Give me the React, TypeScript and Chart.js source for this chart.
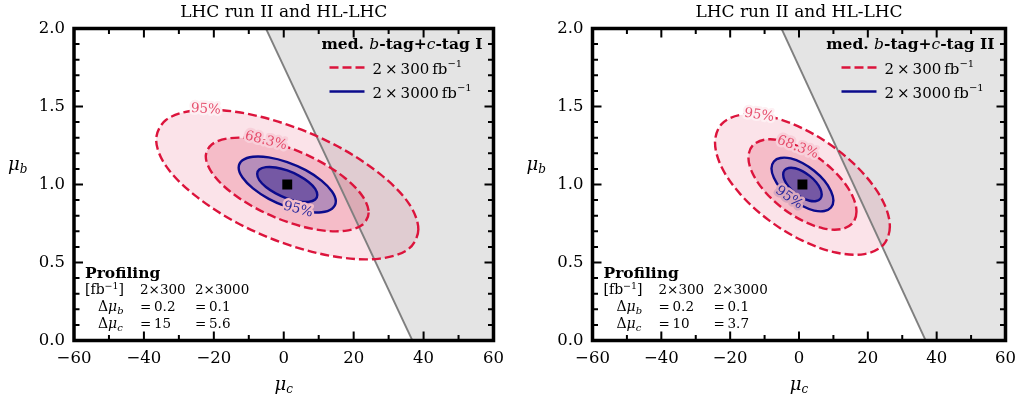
import React, { useEffect, useRef } from "react";
import { Chart, registerables } from "chart.js";

Chart.register(...registerables);

type Pt = [number, number];

// ---- Contour points (mu_c, mu_b) ----
// Panel I : med. b-tag + c-tag I
const I_300_95: Pt[] = [
  [38.5, 0.712], [35.7, 0.587], [27.5, 0.525], [15.4, 0.535], [1, 0.616], [-13.4, 0.755], [-25.5, 0.932], [-33.7, 1.119],
  [-36.5, 1.288], [-33.7, 1.413], [-25.5, 1.475], [-13.4, 1.465], [1, 1.384], [15.4, 1.245], [27.5, 1.068], [35.7, 0.881],
];
const I_300_68: Pt[] = [
  [24.3, 0.82], [22.5, 0.742], [17.5, 0.703], [9.9, 0.709], [1, 0.76], [-7.9, 0.847], [-15.5, 0.958], [-20.5, 1.074],
  [-22.3, 1.18], [-20.5, 1.258], [-15.5, 1.297], [-7.9, 1.291], [1, 1.24], [9.9, 1.153], [17.5, 1.042], [22.5, 0.926],
];
const I_3000_95: Pt[] = [
  [14.9, 0.892], [13.8, 0.845], [10.8, 0.822], [6.3, 0.826], [1, 0.856], [-4.3, 0.908], [-8.8, 0.975], [-11.8, 1.045],
  [-12.9, 1.108], [-11.8, 1.155], [-8.8, 1.178], [-4.3, 1.174], [1, 1.144], [6.3, 1.092], [10.8, 1.025], [13.8, 0.955],
];
const I_3000_68: Pt[] = [
  [9.6, 0.933], [9.0, 0.904], [7.1, 0.889], [4.3, 0.891], [1, 0.91], [-2.3, 0.943], [-5.1, 0.984], [-7.0, 1.028],
  [-7.6, 1.067], [-7.0, 1.096], [-5.1, 1.111], [-2.3, 1.109], [1, 1.09], [4.3, 1.057], [7.1, 1.016], [9.0, 0.972],
];
// Panel II : med. b-tag + c-tag II
const II_300_95: Pt[] = [
  [26.4, 0.73], [24.5, 0.613], [19.0, 0.554], [10.7, 0.564], [1, 0.64], [-8.7, 0.77], [-17.0, 0.937], [-22.5, 1.112],
  [-24.4, 1.27], [-22.5, 1.387], [-17.0, 1.446], [-8.7, 1.436], [1, 1.36], [10.7, 1.23], [19.0, 1.063], [24.5, 0.888],
];
const II_300_68: Pt[] = [
  [16.7, 0.826], [15.5, 0.751], [12.1, 0.713], [7.0, 0.719], [1, 0.768], [-5.0, 0.852], [-10.1, 0.959], [-13.5, 1.072],
  [-14.7, 1.174], [-13.5, 1.249], [-10.1, 1.287], [-5.0, 1.281], [1, 1.232], [7.0, 1.148], [12.1, 1.041], [15.5, 0.928],
];
const II_3000_95: Pt[] = [
  [10, 0.897], [9.3, 0.852], [7.4, 0.83], [4.4, 0.833], [1, 0.862], [-2.4, 0.912], [-5.4, 0.976], [-7.3, 1.043],
  [-8, 1.103], [-7.3, 1.148], [-5.4, 1.17], [-2.4, 1.167], [1, 1.138], [4.4, 1.088], [7.4, 1.024], [9.3, 0.957],
];
const II_3000_68: Pt[] = [
  [6.6, 0.936], [6.2, 0.908], [5.0, 0.894], [3.1, 0.896], [1, 0.914], [-1.1, 0.945], [-3.0, 0.985], [-4.2, 1.027],
  [-4.6, 1.064], [-4.2, 1.092], [-3.0, 1.106], [-1.1, 1.104], [1, 1.086], [3.1, 1.055], [5.0, 1.015], [6.2, 0.973],
];

const bestFit: Pt[] = [[1, 1]];
const boundaryLine: Pt[] = [[-5.1, 2], [36.8, 0]];
const excludedRegion: Pt[] = [[-5.1, 2], [36.8, 0], [60, 0], [60, 2]];

// ---- Axes ----
const xRange = [-60, 60];
const yRange = [0, 2];
const xMajorStep = 20;
const yMajorStep = 0.5;
const xMinorTicks = [-50, -30, -10, 10, 30, 50];
const yMinorTicks = [0.1, 0.2, 0.3, 0.4, 0.6, 0.7, 0.8, 0.9, 1.1, 1.2, 1.3, 1.4, 1.6, 1.7, 1.8, 1.9];

// ---- Texts ----
const panelTitles = ["LHC run II and HL-LHC", "LHC run II and HL-LHC"];
const taggerNames = ["I", "II"];
const lumiLabels = ["2\u2009×\u2009300\u2009fb", "2\u2009×\u20093000\u2009fb"];
const tableLumis = ["2×300", "2×3000"];
const deltaMuB = [["0.2", "0.1"], ["0.2", "0.1"]];
const deltaMuC = [["15", "5.6"], ["10", "3.7"]];

// contour level labels placed on the curves
const contourLabels = [
  [
    { text: "95%", x: -22.3, y: 1.482, rot: 0.05, kind: "red", halo: "#fdf0f3" },
    { text: "68.3%", x: -5.1, y: 1.28, rot: 0.25, kind: "red", halo: "#f8d0da" },
    { text: "95%", x: 4.1, y: 0.839, rot: 0.26, kind: "blue", halo: "#f3bcc8" },
  ],
  [
    { text: "95%", x: -11.6, y: 1.444, rot: 0.15, kind: "red", halo: "#fdf0f3" },
    { text: "68.3%", x: -0.4, y: 1.238, rot: 0.36, kind: "red", halo: "#f8d0da" },
    { text: "95%", x: -2.9, y: 0.915, rot: 0.62, kind: "blue", halo: "#d9a8bd" },
  ],
];

const panelCurves = [
  { r95: I_300_95, r68: I_300_68, b95: I_3000_95, b68: I_3000_68 },
  { r95: II_300_95, r68: II_300_68, b95: II_3000_95, b68: II_3000_68 },
];

// ---- Layout / style ----
const yAxisWidth = [74, 80.5];
const rightPad = [18, 12];
const SERIF = '"DejaVu Serif", serif';
const RED = "#dc143c";
const BLUE = "#0b0b8c";
const FILL_R95 = "#fbe3e9";
const FILL_R68 = "#f5bcc8";
const FILL_B95 = "#b78eba";
const FILL_B68 = "#7558a4";
const DASH = [9, 4];

const font = (size: number, style = "") => `${style} ${size}px ${SERIF}`.trim();

type Run = { t: string; f: string; dy?: number };
function runsWidth(ctx: CanvasRenderingContext2D, runs: Run[]) {
  let w = 0;
  for (const r of runs) {
    ctx.font = r.f;
    w += ctx.measureText(r.t).width;
  }
  return w;
}
function drawRuns(ctx: CanvasRenderingContext2D, x: number, y: number, runs: Run[], align = "left") {
  const w = runsWidth(ctx, runs);
  let cx = align === "right" ? x - w : align === "center" ? x - w / 2 : x;
  ctx.textAlign = "left";
  ctx.textBaseline = "alphabetic";
  for (const r of runs) {
    ctx.font = r.f;
    ctx.fillText(r.t, cx, y + (r.dy || 0));
    cx += ctx.measureText(r.t).width;
  }
}

const toPts = (arr: Pt[]) => arr.map(([x, y]) => ({ x, y }));

const loopPlugin = {
  id: "closeCurves",
  afterDatasetsUpdate(chart: any) {
    chart.data.datasets.forEach((ds: any, i: number) => {
      if (!ds.closedCurve) return;
      const line = chart.getDatasetMeta(i).dataset;
      if (!line) return;
      line._loop = true;
      line._fullLoop = true;
      line._pointsUpdated = false;
      line._segments = undefined;
      line._path = undefined;
    });
  },
};

function makeAnnotations(p: number) {
  return {
    id: "annotations" + p,
    afterDraw(chart: any) {
      const { ctx, chartArea: a } = chart;
      const xs = chart.scales.x;
      const ys = chart.scales.y;
      ctx.save();

      // contour labels
      for (const lb of contourLabels[p]) {
        ctx.save();
        ctx.translate(xs.getPixelForValue(lb.x), ys.getPixelForValue(lb.y));
        ctx.rotate(lb.rot);
        ctx.font = font(13.5);
        ctx.textAlign = "center";
        ctx.textBaseline = "middle";
        ctx.lineJoin = "round";
        ctx.strokeStyle = lb.halo;
        ctx.lineWidth = 5;
        ctx.strokeText(lb.text, 0, 0);
        ctx.fillStyle = lb.kind === "red" ? "rgba(226,50,86,0.85)" : "#2a2a9e";
        ctx.fillText(lb.text, 0, 0);
        ctx.restore();
      }

      // frame
      ctx.strokeStyle = "#000";
      ctx.lineWidth = 3.5;
      ctx.strokeRect(a.left, a.top, a.right - a.left, a.bottom - a.top);

      // ticks (inward, all sides)
      ctx.lineWidth = 2;
      const tickX = (v: number, len: number) => {
        const px = xs.getPixelForValue(v);
        ctx.beginPath();
        ctx.moveTo(px, a.bottom);
        ctx.lineTo(px, a.bottom - len);
        ctx.moveTo(px, a.top);
        ctx.lineTo(px, a.top + len);
        ctx.stroke();
      };
      const tickY = (v: number, len: number) => {
        const py = ys.getPixelForValue(v);
        ctx.beginPath();
        ctx.moveTo(a.left, py);
        ctx.lineTo(a.left + len, py);
        ctx.moveTo(a.right, py);
        ctx.lineTo(a.right - len, py);
        ctx.stroke();
      };
      xs.ticks.forEach((t: any) => tickX(t.value, 9));
      xMinorTicks.forEach((v) => tickX(v, 5.5));
      ys.ticks.forEach((t: any) => tickY(t.value, 9));
      yMinorTicks.forEach((v) => tickY(v, 5.5));

      ctx.fillStyle = "#000";
      // title
      ctx.font = font(17);
      ctx.textAlign = "center";
      ctx.textBaseline = "alphabetic";
      ctx.fillText(panelTitles[p], (a.left + a.right) / 2, 17);

      // axis titles
      drawRuns(ctx, (a.left + a.right) / 2, 390, [
        { t: "μ", f: font(18, "italic") },
        { t: "c", f: font(12, "italic"), dy: 3 },
      ], "center");
      drawRuns(ctx, a.left - 66, 170, [
        { t: "μ", f: font(18, "italic") },
        { t: "b", f: font(12, "italic"), dy: 3 },
      ]);

      // legend
      const R = a.right;
      const T = a.top;
      drawRuns(ctx, R - 11, T + 20, [
        { t: "med. ", f: font(15.5, "bold") },
        { t: "b", f: font(15.5, "italic") },
        { t: "-tag+", f: font(15.5, "bold") },
        { t: "c", f: font(15.5, "italic") },
        { t: "-tag " + taggerNames[p], f: font(15.5, "bold") },
      ], "right");
      ctx.lineWidth = 2.4;
      ctx.strokeStyle = RED;
      ctx.setLineDash(DASH);
      ctx.beginPath();
      ctx.moveTo(R - 164, T + 39);
      ctx.lineTo(R - 129, T + 39);
      ctx.stroke();
      ctx.setLineDash([]);
      ctx.strokeStyle = BLUE;
      ctx.beginPath();
      ctx.moveTo(R - 164, T + 63);
      ctx.lineTo(R - 129, T + 63);
      ctx.stroke();
      ctx.fillStyle = "#000";
      drawRuns(ctx, R - 121, T + 45, [
        { t: lumiLabels[0], f: font(15) },
        { t: "\u22121", f: font(10), dy: -7 },
      ]);
      drawRuns(ctx, R - 121, T + 69, [
        { t: lumiLabels[1], f: font(15) },
        { t: "\u22121", f: font(10), dy: -7 },
      ]);

      // profiling table
      const L = a.left;
      drawRuns(ctx, L + 11, 278, [{ t: "Profiling", f: font(15.5, "bold") }]);
      drawRuns(ctx, L + 11, 294, [
        { t: "[fb", f: font(14) },
        { t: "\u22121", f: font(9.5), dy: -5 },
        { t: "]", f: font(14) },
      ]);
      drawRuns(ctx, L + 66, 294, [{ t: tableLumis[0], f: font(13.5) }]);
      drawRuns(ctx, L + 121, 294, [{ t: tableLumis[1], f: font(13.5) }]);
      drawRuns(ctx, L + 24, 311, [
        { t: "Δ", f: font(14) },
        { t: "μ", f: font(14, "italic") },
        { t: "b", f: font(10, "italic"), dy: 3 },
      ]);
      drawRuns(ctx, L + 66, 311, [{ t: "=\u2009" + deltaMuB[p][0], f: font(13.5) }]);
      drawRuns(ctx, L + 121, 311, [{ t: "=\u2009" + deltaMuB[p][1], f: font(13.5) }]);
      drawRuns(ctx, L + 24, 328, [
        { t: "Δ", f: font(14) },
        { t: "μ", f: font(14, "italic") },
        { t: "c", f: font(10, "italic"), dy: 3 },
      ]);
      drawRuns(ctx, L + 66, 328, [{ t: "=\u2009" + deltaMuC[p][0], f: font(13.5) }]);
      drawRuns(ctx, L + 121, 328, [{ t: "=\u2009" + deltaMuC[p][1], f: font(13.5) }]);

      ctx.restore();
    },
  };
}

function buildConfig(p: number): any {
  const c = panelCurves[p];
  const lineDs = (pts: Pt[], color: string, dash: number[], order: number) => ({
    data: toPts(pts),
    borderColor: color,
    borderWidth: 2.4,
    borderDash: dash,
    fill: false,
    tension: 0.34,
    pointRadius: 0,
    order,
    closedCurve: true,
  });
  const fillDs = (pts: Pt[], color: string, order: number) => ({
    data: toPts(pts),
    borderWidth: 0,
    borderColor: "rgba(0,0,0,0)",
    backgroundColor: color,
    fill: "shape",
    tension: 0.34,
    pointRadius: 0,
    order,
    closedCurve: true,
  });
  return {
    type: "line",
    data: {
      datasets: [
        {
          data: toPts(bestFit),
          showLine: false,
          pointStyle: "rect",
          pointRadius: 7,
          pointBackgroundColor: "#000",
          pointBorderWidth: 0,
          order: 0,
        },
        lineDs(c.b68, BLUE, [], 1),
        lineDs(c.b95, BLUE, [], 2),
        lineDs(c.r68, RED, DASH, 3),
        lineDs(c.r95, RED, DASH, 4),
        {
          data: toPts(boundaryLine),
          borderColor: "#7f7f7f",
          borderWidth: 1.8,
          fill: false,
          pointRadius: 0,
          tension: 0,
          order: 5,
        },
        {
          data: toPts(excludedRegion),
          borderWidth: 0,
          backgroundColor: "rgba(90,90,90,0.16)",
          fill: "shape",
          pointRadius: 0,
          tension: 0,
          order: 6,
        },
        fillDs(c.b68, FILL_B68, 7),
        fillDs(c.b95, FILL_B95, 8),
        fillDs(c.r68, FILL_R68, 9),
        fillDs(c.r95, FILL_R95, 10),
      ],
    },
    options: {
      animation: false,
      responsive: false,
      maintainAspectRatio: false,
      devicePixelRatio: 1,
      events: [],
      layout: { padding: { top: 28.5, right: rightPad[p], bottom: 0, left: 0 } },
      plugins: {
        legend: { display: false },
        tooltip: { enabled: false },
        title: { display: false },
      },
      scales: {
        x: {
          type: "linear",
          min: xRange[0],
          max: xRange[1],
          grid: { display: false, drawTicks: false },
          border: { display: false },
          ticks: {
            stepSize: xMajorStep,
            autoSkip: false,
            maxRotation: 0,
            padding: 8,
            color: "#000",
            font: { family: SERIF, size: 16.5 },
            callback: (v: number) => (v < 0 ? "\u2212" + Math.abs(v) : String(v)),
          },
          afterFit: (s: any) => {
            s.height = 64.5;
          },
        },
        y: {
          type: "linear",
          min: yRange[0],
          max: yRange[1],
          grid: { display: false, drawTicks: false },
          border: { display: false },
          ticks: {
            stepSize: yMajorStep,
            autoSkip: false,
            padding: 9,
            color: "#000",
            font: { family: SERIF, size: 16.5 },
            callback: (v: number) => Number(v).toFixed(1),
          },
          afterFit: (s: any) => {
            s.width = yAxisWidth[p];
          },
        },
      },
    },
    plugins: [loopPlugin, makeAnnotations(p)],
  };
}

function Panel({ p }: { p: number }) {
  const ref = useRef<HTMLCanvasElement>(null);
  useEffect(() => {
    const chart = new Chart(ref.current as HTMLCanvasElement, buildConfig(p));
    return () => chart.destroy();
  }, [p]);
  return (
    <canvas
      ref={ref}
      width={512}
      height={405}
      style={{ position: "absolute", left: p * 512, top: 0, width: 512, height: 405, display: "block" }}
    />
  );
}

export default function App() {
  return (
    <div style={{ position: "absolute", left: 0, top: 0, width: 1024, height: 405, background: "#fff" }}>
      <Panel p={0} />
      <Panel p={1} />
    </div>
  );
}
